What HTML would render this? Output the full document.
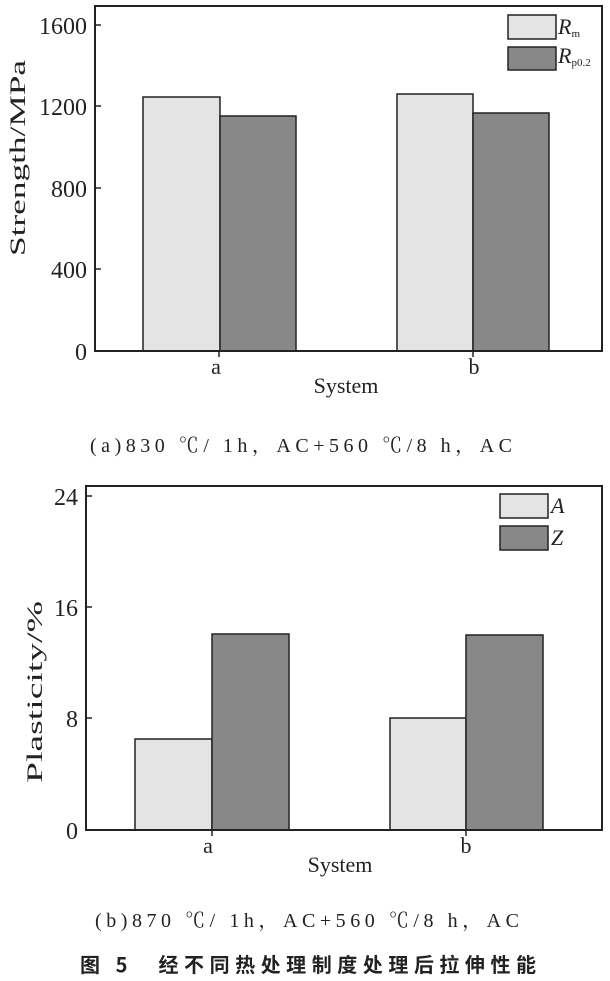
<!DOCTYPE html>
<html><head><meta charset="utf-8"><style>
body{margin:0;background:#fff;width:610px;height:981px;overflow:hidden}
svg{display:block}
text{font-family:"Liberation Serif","Noto Serif CJK SC",serif;fill:#222}
</style></head><body>
<svg width="610" height="981" viewBox="0 0 610 981">
<g stroke="#222" stroke-width="1.5">
<rect x="143" y="97" width="77" height="254" fill="#e4e4e4"/>
<rect x="220" y="116" width="76" height="235" fill="#888"/>
<rect x="397" y="94" width="76" height="257" fill="#e4e4e4"/>
<rect x="473" y="113" width="76" height="238" fill="#888"/>
<rect x="95" y="6" width="507" height="345" fill="none" stroke-width="2"/>
<line x1="95" y1="25" x2="101" y2="25"/><line x1="95" y1="106" x2="101" y2="106"/>
<line x1="95" y1="188" x2="101" y2="188"/><line x1="95" y1="269" x2="101" y2="269"/>
<line x1="219" y1="351" x2="219" y2="357"/><line x1="473" y1="351" x2="473" y2="357"/>
<rect x="508" y="15" width="48" height="24" fill="#e4e4e4"/>
<rect x="508" y="47" width="48" height="23" fill="#888"/>
<rect x="135" y="739" width="77" height="91" fill="#e4e4e4"/>
<rect x="212" y="634" width="77" height="196" fill="#888"/>
<rect x="390" y="718" width="76" height="112" fill="#e4e4e4"/>
<rect x="466" y="635" width="77" height="195" fill="#888"/>
<rect x="86" y="486" width="516" height="344" fill="none" stroke-width="2"/>
<line x1="86" y1="496" x2="92" y2="496"/><line x1="86" y1="607" x2="92" y2="607"/>
<line x1="86" y1="718" x2="92" y2="718"/>
<line x1="212" y1="830" x2="212" y2="836"/><line x1="466" y1="830" x2="466" y2="836"/>
<rect x="500" y="494" width="48" height="24" fill="#e4e4e4"/>
<rect x="500" y="526" width="48" height="24" fill="#888"/>
</g>
<g font-size="24" text-anchor="end">
<text x="87" y="34">1600</text><text x="87" y="115">1200</text>
<text x="87" y="197">800</text><text x="87" y="278">400</text><text x="87" y="360">0</text>
<text x="78" y="505">24</text><text x="78" y="616">16</text>
<text x="78" y="727">8</text><text x="78" y="839">0</text>
</g>
<g font-size="22" text-anchor="middle">
<text x="216" y="374">a</text><text x="474" y="374">b</text>
<text x="346" y="393">System</text>
<text x="208" y="853">a</text><text x="466" y="853">b</text>
<text x="340" y="872">System</text>
<text transform="translate(25,158) rotate(-90)" textLength="196" lengthAdjust="spacingAndGlyphs">Strength/MPa</text>
<text transform="translate(42,692) rotate(-90)" textLength="182" lengthAdjust="spacingAndGlyphs">Plasticity/%</text>
</g>
<g font-size="22" font-style="italic">
<text x="558" y="34">R<tspan font-size="11" font-style="normal" dy="3">m</tspan></text>
<text x="558" y="63">R<tspan font-size="11" font-style="normal" dy="3">p0.2</tspan></text>
<text x="551" y="513">A</text>
<text x="551" y="545">Z</text>
</g>
<g font-size="20" text-anchor="middle">
<text x="301" y="452" textLength="422" lengthAdjust="spacing">(a)830 ℃/ 1h，AC+560 ℃/8 h，AC</text>
<text x="307" y="927" textLength="424" lengthAdjust="spacing">(b)870 ℃/ 1h，AC+560 ℃/8 h，AC</text>
</g>
<text x="308" y="972" font-size="20" text-anchor="middle" font-weight="bold" textLength="456" lengthAdjust="spacing" style="font-family:'Noto Sans CJK SC',sans-serif">图 5　经不同热处理制度处理后拉伸性能</text>
</svg>
</body></html>
